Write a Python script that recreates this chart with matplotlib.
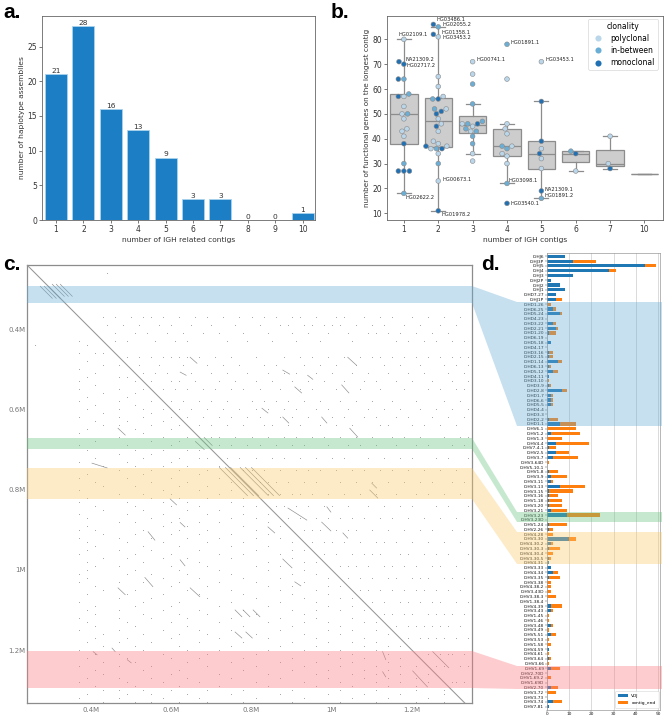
import matplotlib
matplotlib.use("Agg")
import warnings
import matplotlib.pyplot as plt
from matplotlib.patches import Polygon
import numpy as np
import seaborn as sns

warnings.filterwarnings("ignore")

# ---- panel a
contig_counts = [1, 2, 3, 4, 5, 6, 7, 8, 9, 10]
assemblies = [21, 28, 16, 13, 9, 3, 3, 0, 0, 1]

# ---- panel b
box_categories = [1, 2, 3, 4, 5, 6, 7, 10]
box_q1 = [38, 36.5, 42.5, 33, 28, 30.5, 29, 26]
box_med = [50, 47, 45.5, 37, 34, 34, 30, 26]
box_q3 = [58, 56.3, 49, 44, 39, 35, 35.5, 26]
box_lo = [18, 11, 34, 22, 16, 27, 28, 26]
box_hi = [80, 85, 54, 46, 55, 35, 41, 26]

poly_pts = {1: [80, 57, 53, 50, 48, 44, 43, 41],
            2: [81, 65, 61, 57, 52, 48, 46, 43, 39, 38, 37, 36, 34, 23],
            3: [71, 66, 46, 45, 43, 34, 31],
            4: [64, 46, 44, 42, 37, 34, 33, 30],
            5: [71, 36, 32, 28],
            6: [27],
            7: [41, 30]}
mid_pts = {1: [64, 58, 50, 30, 18],
           2: [85, 56, 52, 36, 30],
           3: [62, 54, 47, 46, 44, 43, 41, 38],
           4: [78, 37, 36, 22],
           5: [16],
           6: [35]}
mono_pts = {1: [71, 70, 64, 57, 38, 27, 27, 27],
            2: [86, 82, 56, 51, 50, 45, 37, 36, 11],
            3: [46],
            4: [14],
            5: [55, 39, 34, 19],
            6: [34],
            7: [28]}
clonality = ["polyclonal", "in-between", "monoclonal"]
clone_colors = ["#bad6eb", "#6aaed6", "#2070b4"]

sample_names = ["HG03486.1", "HG02055.2", "HG01358.1", "HG03453.2", "HG02109.1", "NA21309.2",
                "HG02717.2", "HG00741.1", "HG01891.1", "HG03453.1", "HG00673.1", "HG03098.1",
                "NA21309.1", "HG01891.2", "HG03540.1", "HG02622.2", "HG01978.2"]
sample_x = [0.94, 1.11, 1.09, 1.11, -0.15, 0.05, 0.09, 2.10, 3.11, 4.11, 1.11, 3.05,
            4.10, 4.10, 3.11, 0.05, 1.08]
sample_y = [88, 86, 82.8, 80.7, 82, 72, 69.4, 71.7, 78.7, 71.7, 23.7, 23.3,
            19.7, 17, 14, 16.3, 9.5]

# ---- panel c: self dot plot, read in units of 0.01 Mb (upper triangle, mirrored)
dot_rows = {
    26: [44],
    37: [43, 46, 50, 53, 55, 58, 62, 66, 69, 73, 77, 80, 83, 86, 90, 92, 96, 101, 103, 108, 112, 115, 120, 124, 128, 132],
    39: [44, 48, 52, 57, 60, 65, 70, 76, 82, 87, 89, 93, 95, 98, 100, 102, 106, 110, 113, 118, 122, 127, 131],
    41: [46, 51, 54, 59, 63, 68, 72, 78, 84, 90, 94, 99, 104, 109, 111, 114, 117, 121, 125, 129],
    43: [46, 49, 56, 61, 64, 74, 79, 85, 91, 97, 105, 116, 119, 123, 126, 130, 133],
    47: [49, 52, 55, 58, 60, 62, 64, 67, 71, 75, 81, 88, 92, 95, 99, 103, 107, 110, 112, 115, 118, 121, 124, 127, 130, 132, 134],
    49: [52, 57, 63, 69, 73, 77, 83, 86, 93, 97, 101, 106, 113, 117, 122, 128, 131, 134],
    51: [53, 56, 59, 65, 70, 74, 79, 84, 88, 91, 96, 100, 105, 109, 114, 119, 123, 129, 133],
    53: [55, 60, 62, 66, 72, 76, 81, 85, 90, 94, 98, 103, 108, 111, 116, 120, 125, 130, 134],
    55: [58, 61, 64, 68, 71, 75, 78, 82, 87, 92, 95, 101, 107, 112, 118, 124, 127, 131, 133],
    58: [60, 63, 67, 70, 74, 80, 83, 86, 89, 93, 97, 102, 106, 110, 115, 121, 128, 132],
    60: [62, 65, 69, 73, 77, 81, 84, 88, 91, 96, 99, 104, 109, 113, 117, 122, 126, 130, 134],
    62: [64, 68, 72, 75, 79, 82, 87, 90, 94, 100, 103, 108, 111, 116, 119, 125, 129, 133],
    64: [67, 70, 74, 78, 83, 85, 89, 92, 97, 101, 105, 112, 114, 120, 123, 127, 131],
    67: [70, 72, 76, 80, 84, 88, 91, 95, 98, 102, 106, 110, 115, 118, 122, 128, 132, 134],
    69: [72, 75, 79, 82, 86, 90, 93, 99, 104, 107, 111, 116, 121, 124, 130, 133],
    72: [74, 77, 81, 85, 88, 92, 96, 100, 103, 109, 113, 117, 120, 126, 129, 134],
    75: [78, 80, 83, 87, 91, 94, 97, 101, 105, 108, 112, 115, 119, 123, 127, 131],
    78: [82, 84, 86, 89, 93, 96, 102, 106, 110, 114, 118, 122, 125, 130, 133],
    81: [84, 87, 90, 92, 95, 99, 103, 107, 111, 116, 121, 124, 128, 132],
    84: [86, 88, 91, 94, 98, 100, 104, 109, 113, 117, 120, 126, 129, 134],
    87: [89, 92, 96, 99, 102, 105, 108, 112, 115, 119, 123, 127, 131],
    90: [93, 95, 97, 101, 104, 106, 110, 114, 118, 122, 125, 130, 133],
    93: [95, 98, 100, 103, 107, 111, 113, 116, 120, 124, 128, 132],
    96: [98, 101, 105, 108, 110, 112, 117, 119, 123, 126, 129, 134],
    99: [102, 104, 106, 109, 113, 115, 118, 121, 125, 127, 131],
    102: [104, 107, 110, 114, 116, 120, 122, 124, 128, 130, 133],
    105: [107, 109, 112, 115, 118, 121, 123, 126, 129, 132],
    108: [110, 113, 117, 119, 122, 125, 127, 131, 134],
    111: [113, 115, 118, 120, 124, 126, 128, 130, 133],
    114: [116, 119, 121, 123, 125, 127, 129, 132],
    117: [119, 122, 124, 126, 128, 131, 134],
    121: [124, 127, 129, 130, 133],
    124: [126, 128, 132, 134],
    128: [130, 131, 133],
}
# short duplicated segments: x0, y0, x1, y1 (Mb)
seg_x0 = [.273, .283, .293, .303, .313, .323, .660, .682, .720, .735, .748, .772, .785, .800, .597, .622, .542, .622, .534, .467, .647, .759, .779, .804, .759, .786, .490, .405, .452, .891, .975, 1.028, .878, .841, .908, 1.202, 1.252, 1.127, 1.127, .988, 1.095, 1.100, 1.040, .878, .908, 1.025, 1.045, .878, .975, .826, .940, .647, .467, .622, .402]
seg_y0 = [.293, .293, .293, .288, .288, .288, .680, .670, .745, .745, .745, .745, .745, .745, .823, .882, .905, .975, 1.019, 1.045, 1.045, 1.100, 1.100, 1.100, 1.155, 1.155, 1.224, 1.204, 1.195, .846, .881, .908, .973, .893, 1.030, 1.252, 1.204, 1.204, 1.254, .843, .801, .784, .470, .502, .544, .539, .647, .619, .619, .597, .515, .470, .647, .507, .734]
seg_x1 = [.303, .313, .323, .333, .343, .353, .682, .702, .790, .805, .818, .842, .855, .870, .613, .634, .559, .634, .554, .485, .671, .776, .796, .821, .776, .802, .500, .415, .460, .938, .998, 1.040, .901, .858, .923, 1.239, 1.292, 1.135, 1.135, .998, 1.115, 1.112, 1.062, .895, .925, 1.043, 1.065, .893, .988, .841, .953, .664, .485, .637, .440]
seg_y1 = [.323, .323, .323, .318, .318, .318, .700, .690, .815, .815, .815, .815, .815, .815, .838, .893, .926, .990, 1.042, 1.062, 1.067, 1.117, 1.117, 1.117, 1.170, 1.170, 1.232, 1.212, 1.204, .876, .903, .921, .995, .908, 1.040, 1.292, 1.244, 1.224, 1.267, .856, .821, .796, .490, .512, .559, .559, .669, .634, .634, .609, .525, .485, .664, .515, .746]
c_ticks = [0.4, 0.6, 0.8, 1.0, 1.2]
c_tick_labels = ["0.4M", "0.6M", "0.8M", "1M", "1.2M"]

# ---- panel d
genes = ["IGHJ6", "IGHJ3P", "IGHJ5", "IGHJ4", "IGHJ3", "IGHJ2P", "IGHJ2", "IGHJ1", "IGHD7-27", "IGHJ1P",
         "IGHD1-26", "IGHD6-25", "IGHD5-24", "IGHD4-23", "IGHD3-22", "IGHD2-21", "IGHD1-20", "IGHD6-19",
         "IGHD5-18", "IGHD4-17", "IGHD3-16", "IGHD2-15", "IGHD1-14", "IGHD6-13", "IGHD5-12", "IGHD4-11",
         "IGHD3-10", "IGHD3-9", "IGHD2-8", "IGHD1-7", "IGHD6-6", "IGHD5-5", "IGHD4-4", "IGHD3-3", "IGHD2-2",
         "IGHD1-1", "IGHV6-1", "IGHV1-2", "IGHV1-3", "IGHV4-4", "IGHV7-4-1", "IGHV2-5", "IGHV3-7",
         "IGHV3-64D", "IGHV5-10-1", "IGHV1-8", "IGHV3-9", "IGHV3-11", "IGHV3-13", "IGHV3-15", "IGHV3-16",
         "IGHV1-18", "IGHV3-20", "IGHV3-21", "IGHV3-23", "IGHV3-23D", "IGHV1-24", "IGHV2-26", "IGHV4-28",
         "IGHV3-30", "IGHV4-30-2", "IGHV3-30-3", "IGHV4-30-4", "IGHV3-30-5", "IGHV4-31", "IGHV3-33",
         "IGHV4-34", "IGHV3-35", "IGHV3-38", "IGHV4-38-2", "IGHV3-43D", "IGHV3-38-3", "IGHV1-38-4",
         "IGHV4-39", "IGHV3-43", "IGHV1-45", "IGHV1-46", "IGHV3-48", "IGHV3-49", "IGHV5-51", "IGHV3-53",
         "IGHV1-58", "IGHV4-59", "IGHV4-61", "IGHV3-64", "IGHV3-66", "IGHV1-69", "IGHV2-70D", "IGHV1-69-2",
         "IGHV1-69D", "IGHV2-70", "IGHV3-72", "IGHV3-73", "IGHV3-74", "IGHV7-81"]
vdj = [8, 12, 44, 28, 12, 2, 6, 8, 4, 4,
       0, 3, 6, 0, 3, 4, 1, 0, 2, 0, 1, 1, 5, 1, 3, 1, 0, 1, 7, 2, 2, 2, 0, 0, 1, 6,
       0, 2, 0, 4, 1, 4, 3, 0, 0, 1, 2, 2, 6, 1, 1, 1, 1, 2, 9, 0, 1, 1, 0, 10,
       2, 1, 0, 1, 1, 2, 3, 1, 0, 0, 0, 0, 0, 2, 2, 0, 0, 2, 0, 2, 0, 0, 1, 0, 1, 0,
       2, 0, 0, 0, 2, 0, 0, 3, 1]
contig_end = [0, 10, 5, 3, 0, 0, 0, 0, 0, 3,
              2, 1, 1, 0, 1, 1, 3, 0, 0, 0, 2, 2, 2, 1, 2, 0, 1, 1, 2, 1, 1, 1, 0, 0, 4, 7,
              13, 13, 7, 15, 3, 6, 11, 1, 0, 4, 7, 1, 11, 11, 4, 6, 6, 7, 15, 0, 8, 2, 3, 3,
              1, 5, 3, 1, 0, 0, 2, 5, 2, 2, 2, 4, 0, 5, 1, 1, 1, 1, 1, 2, 1, 2, 0, 1, 1, 1,
              4, 0, 2, 0, 3, 4, 0, 4, 0]

# ---- layout helpers
W, H = 666, 720


def px_axes(fig, left, top, right, bottom, **kw):
    return fig.add_axes([left / W, 1 - bottom / H, (right - left) / W, (bottom - top) / H], **kw)


fig = plt.figure(figsize=(W / 100, H / 100), dpi=100, facecolor="white")

# ---- a
ax_a = px_axes(fig, 42, 16, 315, 220)
ax_a.bar(contig_counts, assemblies, width=0.8, color="#1c7ec5", edgecolor="#a9d3ee", linewidth=0.6)
for x, v in zip(contig_counts, assemblies):
    ax_a.text(x, v + 0.02, str(v), ha="center", va="bottom", fontsize=5.4, color="#333333")
ax_a.set_xlim(0.49, 10.45)
ax_a.set_ylim(0, 29.4)
ax_a.set_xticks(contig_counts)
ax_a.set_yticks([0, 5, 10, 15, 20, 25])
ax_a.set_xlabel("number of IGH related contigs", fontsize=5.4, color="#333333", labelpad=2)
ax_a.set_ylabel("number of haplotype assemblies", fontsize=5.4, color="#333333", labelpad=1.5)

# ---- b
ax_b = px_axes(fig, 386.7, 15.7, 662.7, 220)
stats = [dict(med=m, q1=a, q3=b, whislo=l, whishi=h, fliers=[])
         for m, a, b, l, h in zip(box_med, box_q1, box_q3, box_lo, box_hi)]
line = dict(color="#8c8c8c", linewidth=0.9)
ax_b.bxp(stats, positions=range(len(box_categories)), widths=0.8, patch_artist=True, showfliers=False,
         manage_ticks=False, boxprops=dict(facecolor="#cdcdcd", edgecolor="#8c8c8c", linewidth=0.9),
         medianprops=line, whiskerprops=line, capprops=line, capwidths=0.4, zorder=1)
xs, ys, hs = [], [], []
for name, table in zip(clonality, [poly_pts, mid_pts, mono_pts]):
    for k, vals in table.items():
        for v in vals:
            xs.append(k); ys.append(v); hs.append(name)
sns.swarmplot(x=xs, y=ys, hue=hs, order=box_categories, hue_order=clonality, palette=clone_colors,
              size=3.4, linewidth=0.4, edgecolor="#8a8a8a", ax=ax_b, zorder=3, legend=False)
for name, x, y in zip(sample_names, sample_x, sample_y):
    ax_b.text(x, y, name, fontsize=3.7, color="#222222", ha="left", va="center", zorder=4)
ax_b.set_xlim(-0.5, 7.53)
ax_b.set_ylim(7.3, 89.5)
ax_b.set_xticks(range(len(box_categories)))
ax_b.set_xticklabels(box_categories)
ax_b.set_yticks(range(10, 90, 10))
ax_b.set_xlabel("number of IGH contigs", fontsize=5.4, color="#333333", labelpad=2)
ax_b.set_ylabel("number of functional genes on the longest contig", fontsize=5.2, color="#333333", labelpad=1.5)
handles = [plt.Line2D([], [], ls="", marker="o", ms=4.4, mfc=c, mec="none") for c in clone_colors]
ax_b.legend(handles, clonality, title="clonality", fontsize=5.5, title_fontsize=5.5, loc="upper right",
            bbox_to_anchor=(0.982, 0.984), borderaxespad=0, borderpad=0.35, labelspacing=0.42,
            handletextpad=0.6, framealpha=0.85, edgecolor="#d0d0d0", fancybox=True).get_frame().set_linewidth(0.5)

for ax in (ax_a, ax_b):
    ax.tick_params(labelsize=5.5, length=2, width=0.5, pad=1.5, color="#444444", labelcolor="#333333")
    for s in ax.spines.values():
        s.set_linewidth(0.6)
        s.set_color("#666666")

# ---- c
ax_c = px_axes(fig, 27, 265, 472, 703)
ax_c.set_facecolor("none")
dx, dy = [], []
for r, cols in dot_rows.items():
    for c in cols:
        dx += [c * 0.01, r * 0.01]
        dy += [r * 0.01, c * 0.01]
ax_c.scatter(dx, dy, s=0.45, color="#a0a0a0", linewidths=0, zorder=2)
ax_c.plot([0.24, 1.35], [0.24, 1.35], color="#969696", lw=0.75, zorder=3)
for a, b, c, d in zip(seg_x0, seg_y0, seg_x1, seg_y1):
    ax_c.plot([a, c], [b, d], color="#8a8a8a", lw=0.45, zorder=3)
ax_c.set_xlim(0.24, 1.35)
ax_c.set_ylim(1.332, 0.24)
ax_c.set_xticks(c_ticks)
ax_c.set_xticklabels(c_tick_labels)
ax_c.set_yticks(c_ticks)
ax_c.set_yticklabels(c_tick_labels)
ax_c.tick_params(length=0, labelsize=5, labelcolor="#777777", pad=1)
ax_c.tick_params(axis="x", pad=3)
for s in ax_c.spines.values():
    s.set_color("#8c8c8c")
    s.set_linewidth(0.9)

# ---- d
ax_d = px_axes(fig, 546.7, 253, 660, 709.5)
ax_d.set_facecolor("none")
rows = np.arange(len(genes))
ax_d.barh(rows, vdj, height=0.65, color="#1f77b4", label="VDJ", zorder=2)
ax_d.barh(rows, contig_end, left=vdj, height=0.65, color="#ff7f0e", label="contig_end", zorder=2)
ax_d.set_yticks(rows)
ax_d.set_yticklabels(genes)
ax_d.set_ylim(94.6, -0.69)
ax_d.set_xlim(0, 50.8)
ax_d.set_xticks([0, 10, 20, 30, 40, 50])
ax_d.grid(axis="x", color="#d4d4d4", lw=0.6, zorder=0)
ax_d.set_axisbelow(True)
ax_d.tick_params(labelsize=3.1, length=1.2, width=0.3, pad=0.6, labelcolor="#111111", color="#444444")
for s in ax_d.spines.values():
    s.set_linewidth(0.5)
    s.set_color("#9a9a9a")
ax_d.legend(fontsize=3.2, loc="lower right", borderpad=0.7, labelspacing=0.7, handlelength=2.2,
            framealpha=0.8, edgecolor="#cccccc", borderaxespad=0.3).get_frame().set_linewidth(0.4)

# ---- bands linking c and d, in page pixels
ov = fig.add_axes([0, 0, 1, 1], zorder=10)
ov.set_xlim(0, W)
ov.set_ylim(H, 0)
ov.axis("off")
bands = [("#6baed6", 286, 303, 302, 426), ("#69c583", 438, 449, 512, 522),
         ("#faca6e", 468, 499, 532, 564), ("#fa7b83", 651, 688, 666, 689)]
for col, t0, b0, t1, b1 in bands:
    ov.add_patch(Polygon([(27, t0), (472, t0), (517, t1), (662, t1), (662, b1), (517, b1), (472, b0), (27, b0)],
                         closed=True, facecolor=col, edgecolor="none", alpha=0.38))

# ---- panel letters
for s, x, y in [("a.", 3, 13), ("b.", 331, 13), ("c.", 3, 264), ("d.", 481, 264)]:
    ov.text(x, y, s, fontsize=15, fontweight="bold", family="Liberation Sans", ha="left", va="center", color="black")

fig.savefig("out.png", dpi=100)
